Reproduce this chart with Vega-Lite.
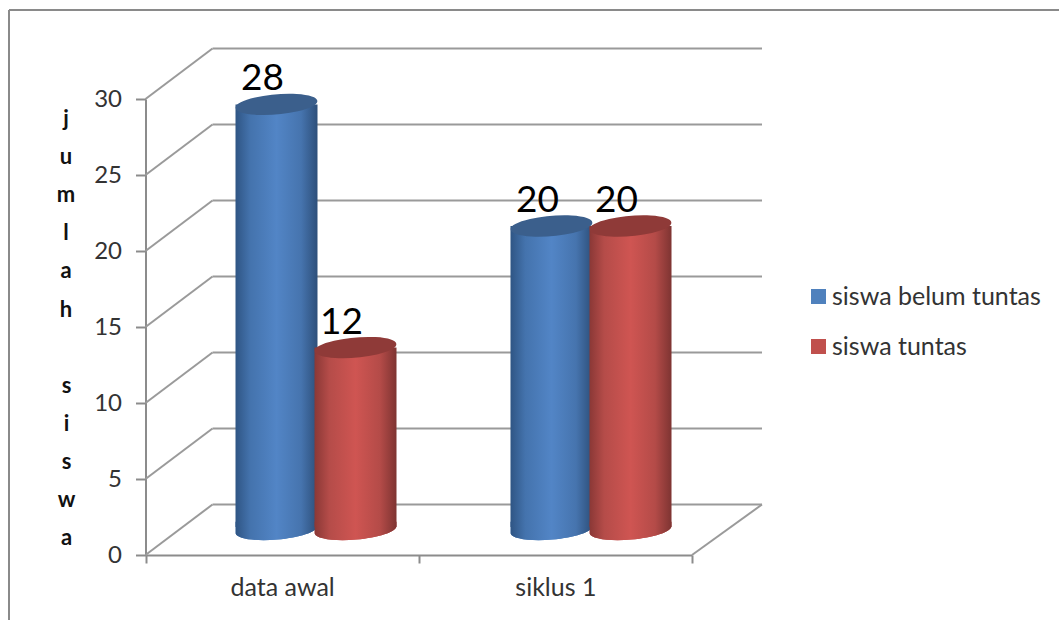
{
  "$schema": "https://vega.github.io/schema/vega-lite/v6.json",
  "width": 1050,
  "height": 610,
  "padding": {"left": 9, "top": 10, "right": 0, "bottom": 0},
  "autosize": "none",
  "background": "white",
  "config": {"view": {"stroke": null}, "font": "Lato"},
  "datasets": {
    "gridTicks": [{"tick": 0}, {"tick": 5}, {"tick": 10}, {"tick": 15}, {"tick": 20}, {"tick": 25}, {"tick": 30}],
    "counts": [
      {"kelompok": "data awal", "seri": "siswa belum tuntas", "jumlah": 28},
      {"kelompok": "data awal", "seri": "siswa tuntas", "jumlah": 12},
      {"kelompok": "siklus 1", "seri": "siswa belum tuntas", "jumlah": 20},
      {"kelompok": "siklus 1", "seri": "siswa tuntas", "jumlah": 20}
    ]
  },
  "resolve": {"scale": {"x": "independent", "y": "independent"}},
  "layer": [
    {
      "description": "Outer chart border, top and left edges; its axis carries the second word of the stacked title",
      "data": {"values": [{"edge": "frame"}]},
      "layer": [
        {
          "mark": {"type": "rule", "stroke": "#8a8a8a", "strokeWidth": 2},
          "encoding": {
            "x": {"datum": 0, "type": "quantitative", "scale": {"domain": [0, 1]}, "axis": null},
            "x2": {"datum": 1},
            "y": {
              "datum": 1,
              "type": "quantitative",
              "scale": {"domain": [0, 1]},
              "axis": {
                "orient": "left",
                "domain": false,
                "ticks": false,
                "labels": false,
                "grid": false,
                "title": ["s", "i", "s", "w", "a"],
                "titleFont": "Lato",
                "titleFontSize": 22,
                "titleFontWeight": "bold",
                "titleColor": "#111111",
                "titleAngle": 0,
                "titleAlign": "center",
                "titleBaseline": "top",
                "titleLineHeight": 38.2,
                "titleX": 57,
                "titleY": 365
              }
            }
          }
        },
        {
          "mark": {"type": "rule", "stroke": "#8a8a8a", "strokeWidth": 2},
          "encoding": {
            "x": {"datum": 0, "type": "quantitative", "scale": {"domain": [0, 1]}, "axis": null},
            "y": {"datum": 0, "type": "quantitative", "scale": {"domain": [0, 1]}},
            "y2": {"datum": 1}
          }
        }
      ]
    },
    {
      "description": "Value axis, side wall diagonals, back wall gridlines and floor edge",
      "data": {"name": "gridTicks"},
      "encoding": {
        "y": {
          "field": "tick",
          "type": "quantitative",
          "scale": {"domain": [0, 30], "range": [545, 89], "nice": false},
          "axis": {
            "orient": "left",
            "offset": -136.5,
            "values": [0, 5, 10, 15, 20, 25, 30],
            "grid": false,
            "domainColor": "#8c8c8c",
            "domainWidth": 2,
            "tickColor": "#8c8c8c",
            "tickWidth": 2,
            "tickSize": 10,
            "labelFont": "Lato",
            "labelFontSize": 24,
            "labelColor": "#333333",
            "labelPadding": 14,
            "title": ["j", "u", "m", "l", "a", "h"],
            "titleFont": "Lato",
            "titleFontSize": 22,
            "titleFontWeight": "bold",
            "titleColor": "#111111",
            "titleAngle": 0,
            "titleAlign": "center",
            "titleBaseline": "top",
            "titleLineHeight": 38.2,
            "titleX": -80,
            "titleY": 98
          }
        },
        "x": {"datum": 0, "type": "quantitative", "scale": {"domain": [0, 1], "range": [136.5, 683]}, "axis": null}
      },
      "layer": [
        {
          "mark": {"type": "rule", "stroke": "#9a9a9a", "strokeWidth": 2, "x2Offset": 67, "y2Offset": -50.5},
          "encoding": {"x2": {"datum": 0}, "y2": {"field": "tick"}}
        },
        {
          "mark": {"type": "rule", "stroke": "#9a9a9a", "strokeWidth": 2, "xOffset": 67, "x2Offset": 70, "yOffset": -50.5},
          "encoding": {"x2": {"datum": 1}}
        },
        {
          "transform": [{"filter": "datum.tick === 0"}],
          "mark": {"type": "rule", "stroke": "#9a9a9a", "strokeWidth": 2, "x2Offset": 70, "y2Offset": -50.5},
          "encoding": {
            "x": {"datum": 1, "type": "quantitative", "scale": {"domain": [0, 1], "range": [136.5, 683]}, "axis": null},
            "x2": {"datum": 1},
            "y2": {"field": "tick"}
          }
        }
      ]
    },
    {
      "description": "Category axis along the front floor edge",
      "data": {"name": "counts"},
      "mark": {"type": "point", "opacity": 0},
      "encoding": {
        "x": {
          "field": "kelompok",
          "type": "nominal",
          "scale": {"domain": ["data awal", "siklus 1"], "range": [136.5, 683], "padding": 0},
          "axis": {
            "orient": "bottom",
            "offset": -65,
            "title": null,
            "labelAngle": 0,
            "tickBand": "extent",
            "domainColor": "#8c8c8c",
            "domainWidth": 2,
            "tickColor": "#8c8c8c",
            "tickWidth": 2,
            "tickSize": 8,
            "labelFont": "Lato",
            "labelFontSize": 25,
            "labelColor": "#333333",
            "labelPadding": 12
          }
        }
      }
    },
    {
      "description": "Cylinders: skirt, body and top cap per series, then value labels",
      "data": {"name": "counts"},
      "encoding": {
        "x": {
          "field": "kelompok",
          "type": "nominal",
          "scale": {"domain": ["data awal", "siklus 1"], "range": [169.5, 719.5], "paddingInner": 0, "paddingOuter": 0},
          "axis": null
        },
        "xOffset": {
          "field": "seri",
          "type": "nominal",
          "scale": {"domain": ["siswa belum tuntas", "siswa tuntas"], "paddingInner": 0, "paddingOuter": 0.7405}
        }
      },
      "layer": [
        {
          "mark": {
            "type": "point",
            "filled": true,
            "opacity": 1,
            "size": 6724,
            "shape": "M-0.996,0.085 L-0.996,-0.2 L0.996,-0.2 L0.996,-0.085 A1,0.24,-4.9,0,1,-0.996,0.085 Z"
          },
          "encoding": {
            "y": {"datum": 0, "type": "quantitative", "scale": {"domain": [0, 30], "range": [520, 64], "nice": false}, "axis": null},
            "color": {
              "field": "seri",
              "type": "nominal",
              "scale": {"domain": ["siswa belum tuntas", "siswa tuntas"], "range": ["#4f81bd", "#c0504d"]},
              "legend": {
                "title": null,
                "orient": "none",
                "legendX": 797,
                "legendY": 274,
                "padding": 0,
                "symbolType": "square",
                "symbolSize": 225,
                "symbolStrokeWidth": 0,
                "labelFont": "Lato",
                "labelFontSize": 25,
                "labelColor": "#333333",
                "labelOffset": 1,
                "labelLimit": 300,
                "rowPadding": 24
              }
            }
          }
        },
        {
          "transform": [{"filter": "datum.seri === 'siswa belum tuntas'"}],
          "layer": [
            {
              "mark": {
                "type": "point", "filled": true, "opacity": 1, "size": 6724,
                "shape": "M-0.996,0.085 L-0.996,-0.2 L0.996,-0.2 L0.996,-0.085 A1,0.24,-4.9,0,1,-0.996,0.085 Z",
                "fill": {"gradient": "linear", "x1": 0, "x2": 1, "y1": 0, "y2": 0, "stops": [
                  {"offset": 0, "color": "#2f5584"}, {"offset": 0.18, "color": "#4473ad"}, {"offset": 0.5, "color": "#5285c6"}, {"offset": 0.8, "color": "#4674ae"}, {"offset": 1, "color": "#2d4f7a"}
                ]}
              },
              "encoding": {"y": {"datum": 0, "type": "quantitative"}}
            },
            {
              "mark": {
                "type": "bar", "width": 82, "y2Offset": -3,
                "fill": {"gradient": "linear", "x1": 0, "x2": 1, "y1": 0, "y2": 0, "stops": [
                  {"offset": 0, "color": "#2f5584"}, {"offset": 0.18, "color": "#4473ad"}, {"offset": 0.5, "color": "#5285c6"}, {"offset": 0.8, "color": "#4674ae"}, {"offset": 1, "color": "#2d4f7a"}
                ]}
              },
              "encoding": {"y": {"field": "jumlah", "type": "quantitative", "stack": null}, "y2": {"datum": 0}}
            },
            {
              "mark": {
                "type": "point", "filled": true, "opacity": 1, "size": 6724,
                "shape": "M-0.996,0.085 A1,0.24,-4.9,1,1,0.996,-0.085 A1,0.24,-4.9,1,1,-0.996,0.085 Z",
                "fill": "#3b5f8c"
              },
              "encoding": {"y": {"field": "jumlah", "type": "quantitative"}}
            }
          ]
        },
        {
          "transform": [{"filter": "datum.seri === 'siswa tuntas'"}],
          "layer": [
            {
              "mark": {
                "type": "point", "filled": true, "opacity": 1, "size": 6724,
                "shape": "M-0.996,0.085 L-0.996,-0.2 L0.996,-0.2 L0.996,-0.085 A1,0.24,-4.9,0,1,-0.996,0.085 Z",
                "fill": {"gradient": "linear", "x1": 0, "x2": 1, "y1": 0, "y2": 0, "stops": [
                  {"offset": 0, "color": "#8a3836"}, {"offset": 0.18, "color": "#b54c49"}, {"offset": 0.5, "color": "#cf5552"}, {"offset": 0.8, "color": "#b44b48"}, {"offset": 1, "color": "#7e3432"}
                ]}
              },
              "encoding": {"y": {"datum": 0, "type": "quantitative"}}
            },
            {
              "mark": {
                "type": "bar", "width": 82, "y2Offset": -3,
                "fill": {"gradient": "linear", "x1": 0, "x2": 1, "y1": 0, "y2": 0, "stops": [
                  {"offset": 0, "color": "#8a3836"}, {"offset": 0.18, "color": "#b54c49"}, {"offset": 0.5, "color": "#cf5552"}, {"offset": 0.8, "color": "#b44b48"}, {"offset": 1, "color": "#7e3432"}
                ]}
              },
              "encoding": {"y": {"field": "jumlah", "type": "quantitative", "stack": null}, "y2": {"datum": 0}}
            },
            {
              "mark": {
                "type": "point", "filled": true, "opacity": 1, "size": 6724,
                "shape": "M-0.996,0.085 A1,0.24,-4.9,1,1,0.996,-0.085 A1,0.24,-4.9,1,1,-0.996,0.085 Z",
                "fill": "#8f3a38"
              },
              "encoding": {"y": {"field": "jumlah", "type": "quantitative"}}
            }
          ]
        },
        {
          "mark": {"type": "text", "font": "Lato", "fontSize": 37, "color": "#000000", "dx": -14, "dy": -25, "baseline": "middle"},
          "encoding": {
            "y": {"field": "jumlah", "type": "quantitative"},
            "text": {"field": "jumlah", "type": "quantitative"}
          }
        }
      ]
    }
  ]
}
